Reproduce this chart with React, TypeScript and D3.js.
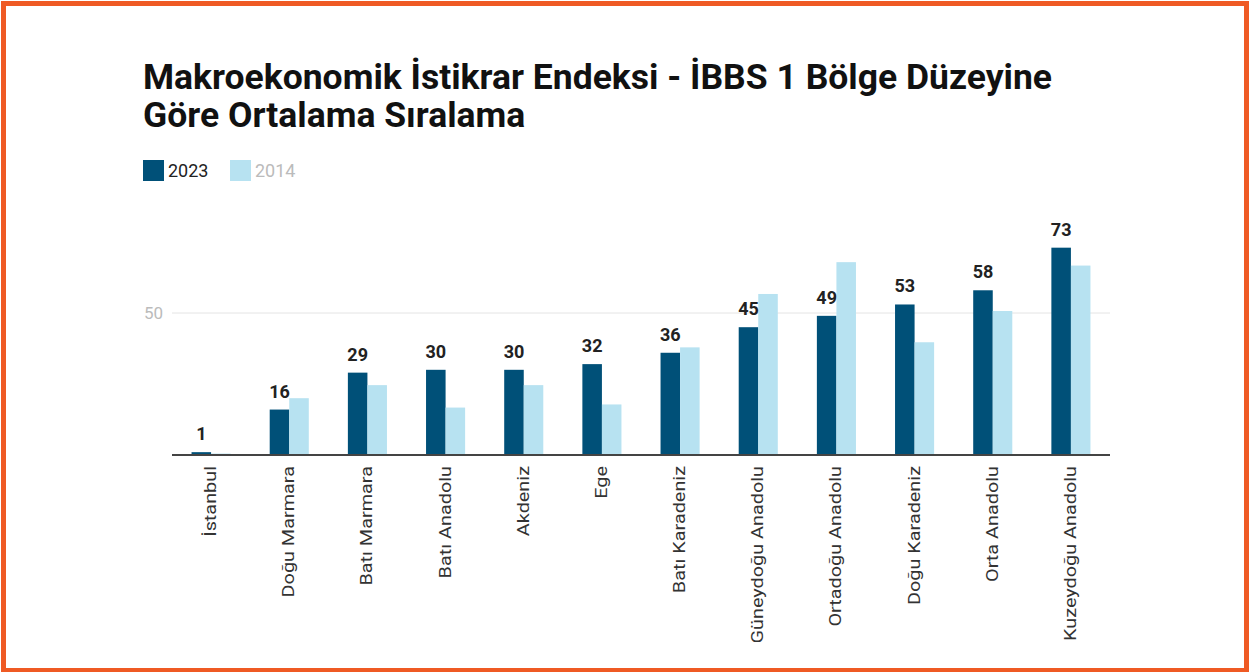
import React from "react";
import * as d3 from "d3";

const regions = [
  "İstanbul",
  "Doğu Marmara",
  "Batı Marmara",
  "Batı Anadolu",
  "Akdeniz",
  "Ege",
  "Batı Karadeniz",
  "Güneydoğu Anadolu",
  "Ortadoğu Anadolu",
  "Doğu Karadeniz",
  "Orta Anadolu",
  "Kuzeydoğu Anadolu",
];
const values2023 = [1, 16, 29, 30, 30, 32, 36, 45, 49, 53, 58, 73];
const values2014 = [0.5, 20, 24.6, 16.7, 24.6, 17.8, 37.9, 56.7, 67.9, 39.7, 50.7, 66.7];
const seriesNames = ["2023", "2014"];
const yTicks = [50];
const titleLines = [
  "Makroekonomik İstikrar Endeksi - İBBS 1 Bölge Düzeyine",
  "Göre Ortalama Sıralama",
];

const W = 1260;
const H = 672;
const DARK = "#005078";
const LIGHT = "#b7e2f1";
const FONT = "Roboto, 'Noto Sans', sans-serif";

export default function App() {
  const x0 = d3.scaleBand<string>().domain(regions).range([172, 1110]).paddingInner(0.5).paddingOuter(0.25);
  const x1 = d3.scaleBand<string>().domain(seriesNames).range([0, x0.bandwidth()]);
  const y = d3.scaleLinear().domain([0, 50]).range([455, 313]);
  const colors = [DARK, LIGHT];
  const series = [values2023, values2014];

  return (
    <div style={{ position: "fixed", left: 0, top: 0 }}>
      <svg width={W} height={H} style={{ display: "block", background: "#fff" }}>
        <defs>
          <clipPath id="plotclip">
            <rect x={0} y={0} width={W} height={642} />
          </clipPath>
        </defs>
        {titleLines.map((t, i) => (
          <text key={i} x={143} y={89 + i * 38} fontFamily={FONT} fontWeight={700} fontSize={35.5} fill="#111">
            {t}
          </text>
        ))}
        {seriesNames.map((s, i) => (
          <g key={s} transform={`translate(${143 + i * 87},160)`}>
            <rect width={21} height={21} fill={colors[i]} />
            <text x={25} y={17} fontFamily={FONT} fontSize={18} fill={i === 0 ? "#222" : "#bbb"}>
              {s}
            </text>
          </g>
        ))}
        {yTicks.map((t) => (
          <g key={t}>
            <line x1={172} x2={1110} y1={y(t)} y2={y(t)} stroke="#e4e4e4" strokeWidth={1} />
            <text x={163} y={y(t) + 6} textAnchor="end" fontFamily={FONT} fontSize={17} fill="#bbb">
              {t}
            </text>
          </g>
        ))}
        {regions.map((r, i) => (
          <g key={r} transform={`translate(${x0(r)},0)`}>
            {series.map((vals, j) => (
              <rect
                key={j}
                x={x1(seriesNames[j])}
                y={y(vals[i])}
                width={x1.bandwidth()}
                height={y(0) - y(vals[i])}
                fill={colors[j]}
              />
            ))}
            <text
              x={(x1(seriesNames[0]) as number) + x1.bandwidth() / 2}
              y={y(values2023[i]) - 12}
              textAnchor="middle"
              fontFamily={FONT}
              fontWeight={700}
              fontSize={18}
              fill="#222"
            >
              {values2023[i]}
            </text>
          </g>
        ))}
        <line x1={172} x2={1110} y1={y(0)} y2={y(0)} stroke="#444" strokeWidth={2} />
        <g clipPath="url(#plotclip)">
          {regions.map((r) => (
            <text
              key={r}
              transform={`translate(${(x0(r) as number) + x0.bandwidth() / 2 + 5},466) scale(1,1.24) rotate(-90)`}
              textAnchor="end"
              fontFamily={FONT}
              fontSize={16}
              fill="#333"
            >
              {r}
            </text>
          ))}
        </g>
        <rect x={3.5} y={3.5} width={1243} height={667} fill="none" stroke="#ef5a24" strokeWidth={5} />
      </svg>
    </div>
  );
}
